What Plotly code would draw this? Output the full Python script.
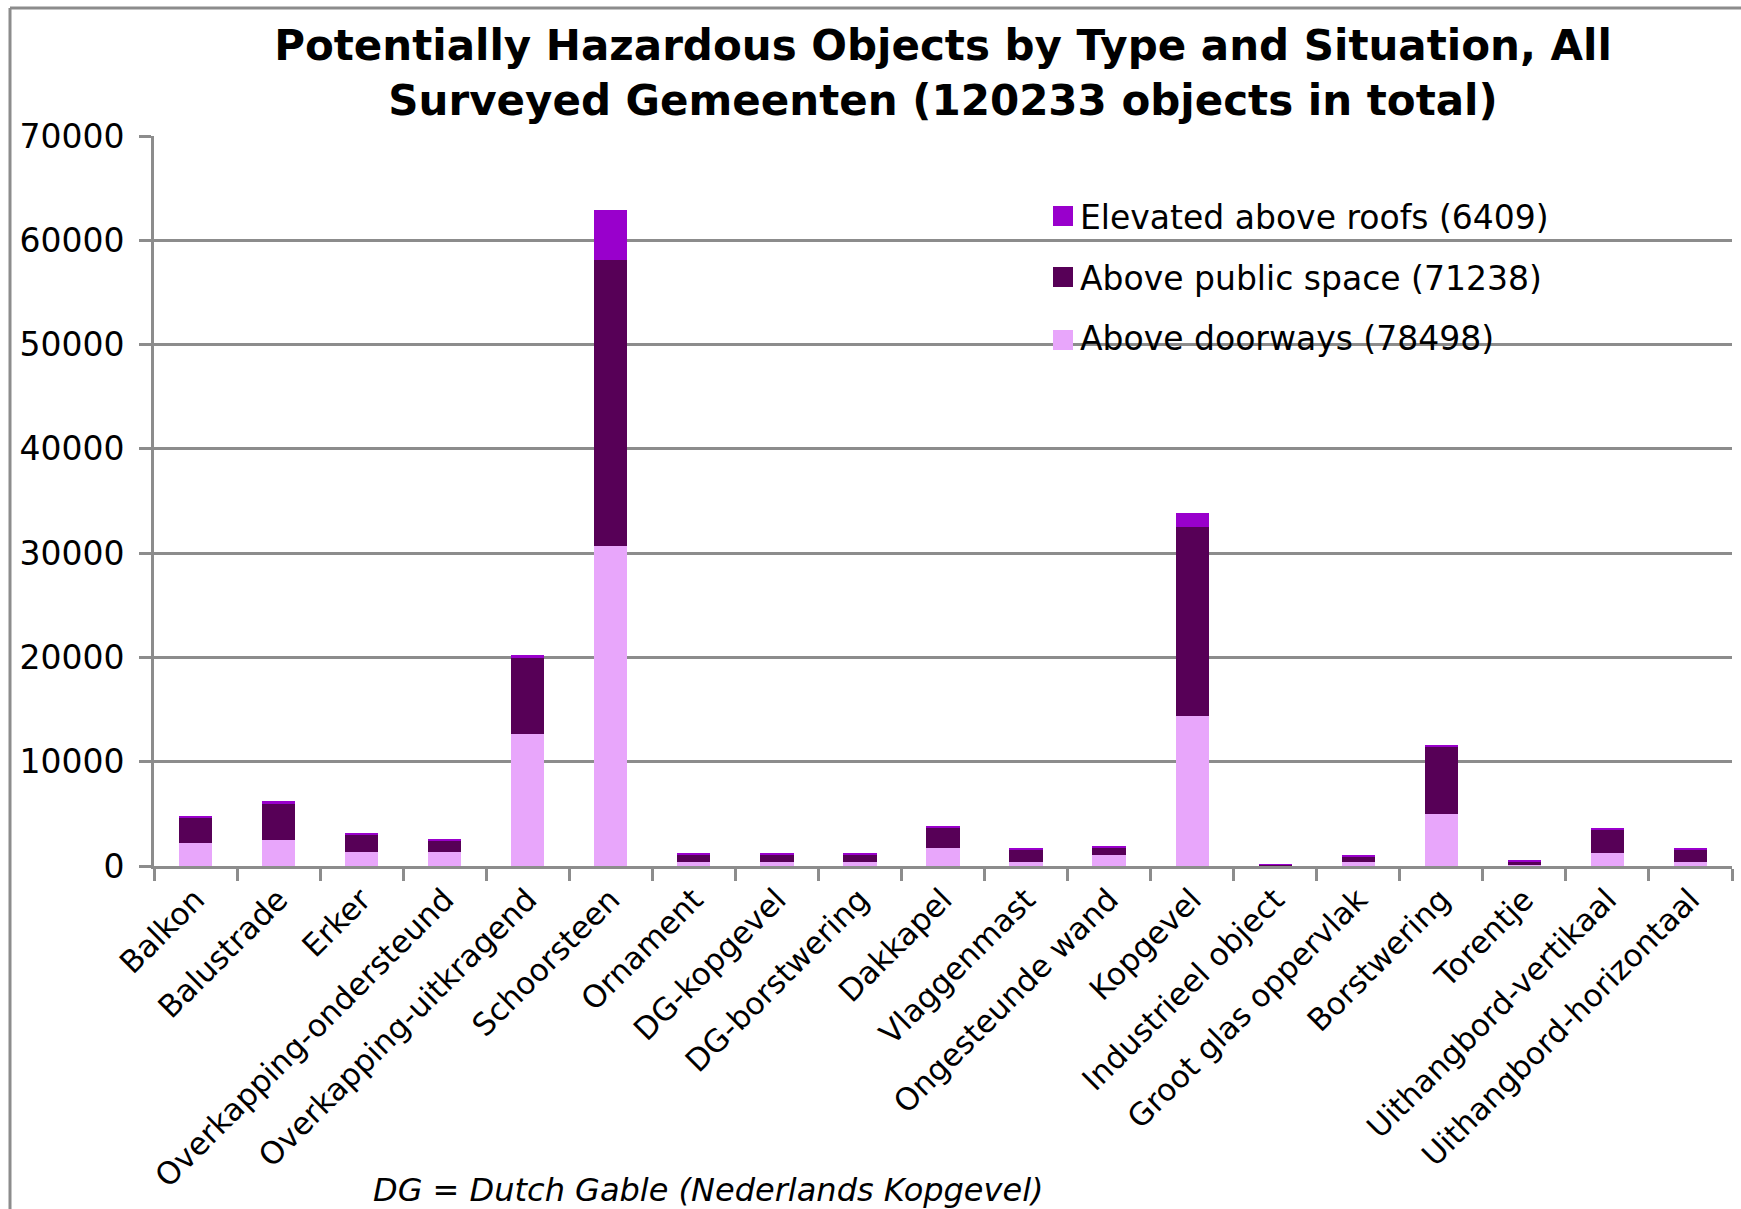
import plotly.graph_objects as go

# Object types surveyed
categories = [
    "Balkon", "Balustrade", "Erker", "Overkapping-ondersteund",
    "Overkapping-uitkragend", "Schoorsteen", "Ornament", "DG-kopgevel",
    "DG-borstwering", "Dakkapel", "Vlaggenmast", "Ongesteunde wand",
    "Kopgevel", "Industrieel object", "Groot glas oppervlak", "Borstwering",
    "Torentje", "Uithangbord-vertikaal", "Uithangbord-horizontaal",
]

# Counts per situation (stacked bottom to top)
above_doorways = [2200, 2500, 1300, 1300, 12700, 30700, 400, 400, 400, 1730,
                  400, 1060, 14400, 50, 350, 4970, 130, 1250, 380]
above_public_space = [2470, 3450, 1750, 1120, 7260, 27430, 700, 700, 700, 1960,
                      1100, 700, 18100, 100, 480, 6530, 320, 2240, 1190]
elevated_above_roofs = [160, 250, 30, 120, 290, 4800, 150, 150, 150, 150,
                        230, 160, 1350, 30, 220, 150, 130, 190, 160]

series_names = ["Above doorways (78498)", "Above public space (71238)",
                "Elevated above roofs (6409)"]
series_colors = ["#e8a6fb", "#570057", "#9900cc"]

y_ticks = [0, 10000, 20000, 30000, 40000, 50000, 60000, 70000]

title_text = ("Potentially Hazardous Objects by Type and Situation, All<br>"
              "Surveyed Gemeenten (120233 objects in total)")
footnote = "DG = Dutch Gable (Nederlands Kopgevel)"

FONT = "DejaVu Sans, Liberation Sans, Arial, sans-serif"
GREY = "#8c8c8c"

W, H = 1741, 1209
L, R, T, B = 154, 9, 136, 343
plot_w = W - L - R
plot_h = H - T - B


def px_x(px):
    return (px - L) / plot_w


def px_y(py):
    return (H - B - py) / plot_h


fig = go.Figure()
for vals, name, color in zip(
        [above_doorways, above_public_space, elevated_above_roofs],
        series_names, series_colors):
    fig.add_trace(go.Bar(
        x=categories, y=vals, name=name,
        marker=dict(color=color, line=dict(width=0)),
        showlegend=False,
    ))

fig.update_layout(
    width=W, height=H,
    margin=dict(l=L, r=R, t=T, b=B),
    barmode="stack", bargap=0.6,
    paper_bgcolor="white", plot_bgcolor="white",
    font=dict(family=FONT, size=32, color="black"),
    title=dict(
        text=title_text,
        font=dict(family=FONT, size=42, color="black", weight="bold"),
        x=px_x(943), xref="paper", xanchor="center",
        y=1 - 60 / H, yref="container", yanchor="middle",
    ),
    xaxis=dict(
        type="category", tickangle=-45, tickson="boundaries",
        ticks="outside", ticklen=12, tickwidth=3, tickcolor=GREY,
        showline=True, linecolor=GREY, linewidth=3,
        showgrid=False, tickfont=dict(size=31),
    ),
    yaxis=dict(
        range=[0, 70000], tickvals=y_ticks,
        ticktext=[str(v) for v in y_ticks],
        ticks="outside", ticklen=12, tickwidth=3, tickcolor=GREY,
        showline=True, linecolor=GREY, linewidth=3,
        showgrid=True, gridcolor=GREY, gridwidth=3, zeroline=False,
        ticklabelstandoff=8, tickfont=dict(size=33),
    ),
)

# Legend drawn as swatches with labels, top entry first
swatch_rows = [216, 277, 340]
label_rows = [217, 278, 338]
for sw_y, lb_y, name, color in zip(swatch_rows, label_rows,
                                   series_names[::-1], series_colors[::-1]):
    fig.add_shape(type="rect", xref="paper", yref="paper",
                  x0=px_x(1053), x1=px_x(1073),
                  y0=px_y(sw_y + 10), y1=px_y(sw_y - 10),
                  fillcolor=color, line=dict(width=0))
    fig.add_annotation(text=name, xref="paper", yref="paper",
                       x=px_x(1078), y=px_y(lb_y), xanchor="left",
                       yanchor="middle", showarrow=False,
                       font=dict(size=33, color="black"))

# Footnote
fig.add_annotation(text=f"<i>{footnote}</i>", xref="paper", yref="paper",
                   x=px_x(708), y=px_y(1190), xanchor="center",
                   yanchor="middle", showarrow=False,
                   font=dict(size=32, color="black"))

# Chart area frame (left and top edges)
fig.add_shape(type="line", xref="paper", yref="paper",
              x0=px_x(10), x1=px_x(10), y0=px_y(8), y1=px_y(H + 5),
              line=dict(color=GREY, width=3))
fig.add_shape(type="line", xref="paper", yref="paper",
              x0=px_x(10), x1=px_x(W + 5), y0=px_y(8), y1=px_y(8),
              line=dict(color=GREY, width=3))

fig.write_html("out.html")
